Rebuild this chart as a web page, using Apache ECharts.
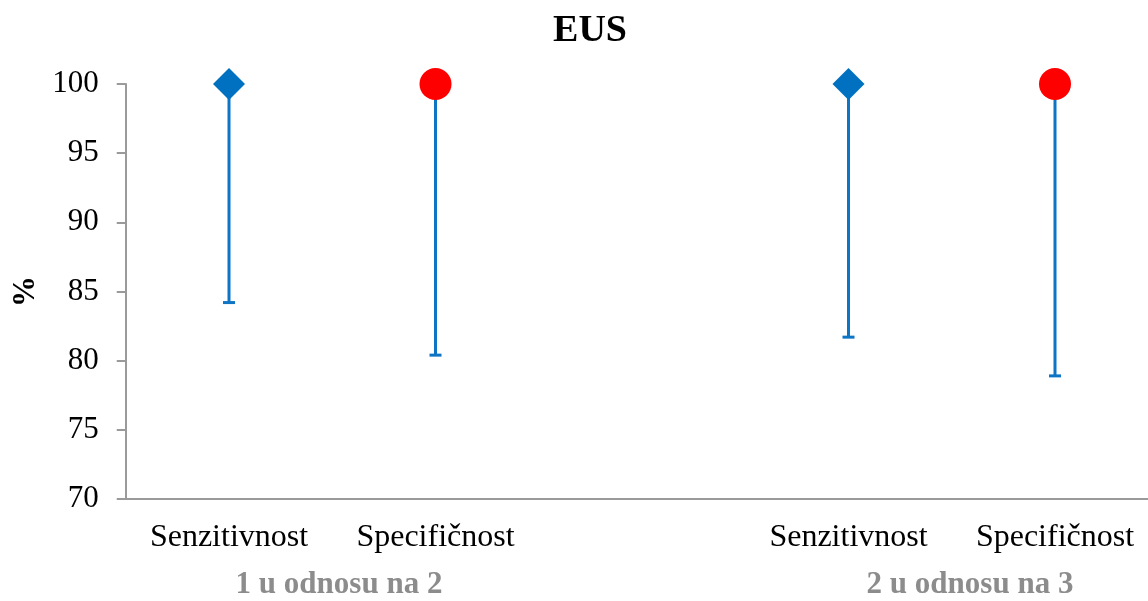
<!DOCTYPE html>
<html>
<head>
<meta charset="utf-8">
<script src="https://cdn.jsdelivr.net/npm/echarts@6/dist/echarts.min.js"></script>
<style>
html,body{margin:0;padding:0;background:#fff;}
#c{width:1148px;height:601px;}
</style>
</head>
<body>
<div id="c"></div>
<script>
var categories = ['Senzitivnost', 'Specifičnost', '', 'Senzitivnost', 'Specifičnost'];
var groupLabels = ['1 u odnosu na 2', '2 u odnosu na 3'];
var senzValues = [100, '-', '-', 100, '-'];
var specValues = ['-', 100, '-', '-', 100];
var pointValues = [100, 100, '-', 100, 100];
var lowerValues = [84.2, 80.4, '-', 81.7, 78.9];
var yTicks = [70, 75, 80, 85, 90, 95, 100];

var FONT = '"Liberation Serif", "Times New Roman", serif';
var chart = echarts.init(document.getElementById('c'), null, {renderer: 'canvas'});

var errData = [];
for (var i = 0; i < categories.length; i++) {
  if (lowerValues[i] !== '-') errData.push([i, pointValues[i], lowerValues[i]]);
}

var option = {
  backgroundColor: '#ffffff',
  animation: false,
  title: {
    text: 'EUS',
    left: 585,
    top: 7,
    textAlign: 'center',
    textStyle: {fontFamily: FONT, fontWeight: 'bold', fontSize: 38, color: '#000'}
  },
  grid: {left: 125.75, width: 1032.5, top: 84, height: 415, containLabel: false, outerBoundsMode: 'none'},
  xAxis: {
    type: 'category',
    data: categories,
    axisLine: {lineStyle: {color: '#9a9a9a', width: 2}},
    axisTick: {show: false},
    axisLabel: {fontFamily: FONT, fontSize: 32, color: '#000', margin: 23, interval: 0}
  },
  yAxis: {
    type: 'value',
    min: 70,
    max: 100,
    interval: 5,
    name: '%',
    nameLocation: 'middle',
    nameGap: 84,
    nameTextStyle: {fontFamily: FONT, fontWeight: 'bold', fontSize: 31, color: '#000'},
    axisLine: {show: true, lineStyle: {color: '#9a9a9a', width: 2}},
    axisTick: {show: true, length: 9, lineStyle: {color: '#9a9a9a', width: 2}},
    splitLine: {show: false},
    axisLabel: {fontFamily: FONT, fontSize: 31, color: '#000', margin: 27,
      formatter: function (v) { return yTicks.indexOf(v) >= 0 ? String(v) : ''; }}
  },
  graphic: [
    {type: 'text', x: 339, y: 569, style: {text: groupLabels[0], font: 'bold 31px ' + FONT, fill: '#8c8c8c', align: 'center', textAlign: 'center'}},
    {type: 'text', x: 970, y: 569, style: {text: groupLabels[1], font: 'bold 31px ' + FONT, fill: '#8c8c8c', align: 'center', textAlign: 'center'}}
  ],
  series: [
    {
      type: 'custom',
      data: errData,
      z: 1,
      renderItem: function (params, api) {
        var x = api.value(0);
        var top = api.coord([x, api.value(1)]);
        var bot = api.coord([x, api.value(2)]);
        var hw = 6;
        return {
          type: 'group',
          children: [
            {type: 'line', shape: {x1: top[0], y1: top[1], x2: bot[0], y2: bot[1]}, style: {stroke: '#0e74c4', lineWidth: 3}},
            {type: 'line', shape: {x1: bot[0] - hw, y1: bot[1], x2: bot[0] + hw, y2: bot[1]}, style: {stroke: '#0e74c4', lineWidth: 3}}
          ]
        };
      }
    },
    {
      type: 'scatter',
      data: senzValues,
      symbol: 'diamond',
      symbolSize: 32,
      z: 3,
      itemStyle: {color: '#0070c0', opacity: 1}
    },
    {
      type: 'scatter',
      data: specValues,
      symbol: 'circle',
      symbolSize: 32,
      z: 3,
      itemStyle: {color: '#ff0000', opacity: 1}
    }
  ]
};
chart.setOption(option);
</script>
</body>
</html>
